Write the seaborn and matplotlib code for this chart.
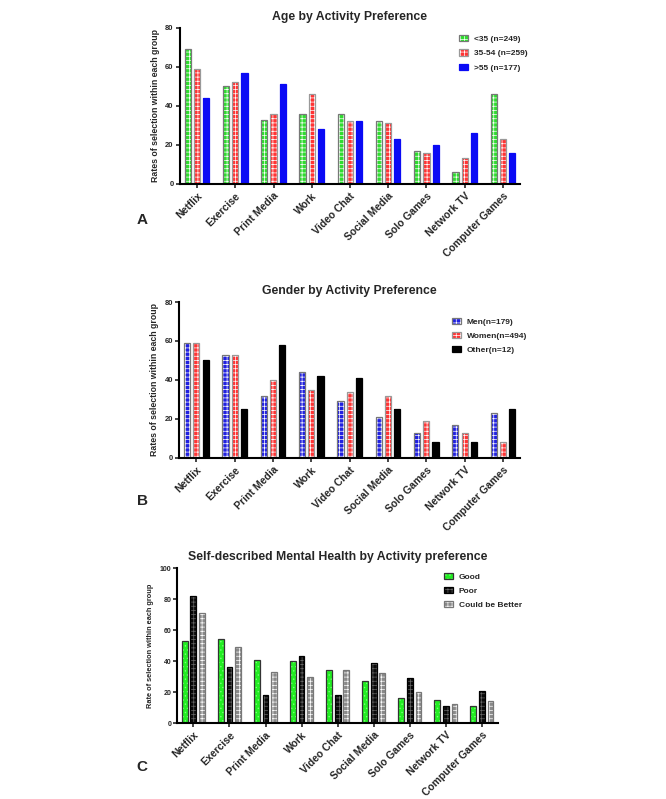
import pandas as pd
import seaborn as sns
import matplotlib.pyplot as plt

# activities (same order in all three panels)
activities = ['Netflix', 'Exercise', 'Print Media', 'Work', 'Video Chat',
              'Social Media', 'Solo Games', 'Network TV', 'Computer Games']

# A - age groups
age_groups = ['<35 (n=249)', '35-54 (n=259)', '>55 (n=177)']
age_under35 = [69, 50, 33, 36, 36, 32, 17, 6, 46]
age_35_54 = [59, 52, 36, 46, 32, 31, 16, 13, 23]
age_over55 = [44, 57, 51, 28, 32, 23, 20, 26, 16]

# B - gender
gender_groups = ['Men(n=179)', 'Women(n=494)', 'Other(n=12)']
gender_men = [59, 53, 32, 44, 29, 21, 13, 17, 23]
gender_women = [59, 53, 40, 35, 34, 32, 19, 13, 8]
gender_other = [50, 25, 58, 42, 41, 25, 8, 8, 25]

# C - self described mental health
health_groups = ['Good', 'Poor', 'Could be Better']
health_good = [53, 54, 41, 40, 34, 27, 16, 15, 11]
health_poor = [82, 36, 18, 43, 18, 39, 29, 11, 21]
health_better = [71, 49, 33, 30, 34, 32, 20, 12, 14]


def long_df(groups, series):
    rows = []
    for g, vals in zip(groups, series):
        for a, v in zip(activities, vals):
            rows.append({'Activity': a, 'Group': g, 'Rate': v})
    return pd.DataFrame(rows)


df_age = long_df(age_groups, [age_under35, age_35_54, age_over55])
df_gender = long_df(gender_groups, [gender_men, gender_women, gender_other])
df_health = long_df(health_groups, [health_good, health_poor, health_better])

sns.set_style('white')
plt.rcParams['font.family'] = ['Liberation Sans', 'DejaVu Sans']
plt.rcParams['hatch.linewidth'] = 0.5

fig = plt.figure(figsize=(6.66, 7.99), dpi=100)


def panel(rect, df, groups, faces, hatches, hatch_cols, outlines, title, ylabel,
          ymax, ystep, letter, letter_xy, leg_anchor, ytick_size=5.5, ylab_size=6.3,
          ytick_pad=1.5):
    ax = fig.add_axes(rect)
    # filled (hatched) bars
    sns.barplot(data=df, x='Activity', y='Rate', hue='Group', order=activities,
                hue_order=groups, palette=faces, width=0.72, gap=0.33,
                errorbar=None, legend=False, ax=ax)
    # outlines drawn on top
    sns.barplot(data=df, x='Activity', y='Rate', hue='Group', order=activities,
                hue_order=groups, palette=outlines, width=0.72, gap=0.33,
                errorbar=None, legend=False, fill=False, linewidth=0.9, ax=ax)
    fills = ax.containers[:3]
    lines = ax.containers[3:6]
    for cont, face, h, hc in zip(fills, faces, hatches, hatch_cols):
        for p in cont.patches:
            p.set_facecolor(face)
            p.set_hatch(h)
            p.set_edgecolor(hc)
            p.set_linewidth(0)

    ax.set_xlim(-0.45, 8.45)
    ax.set_ylim(0, ymax)
    ax.set_yticks(range(0, ymax + 1, ystep))
    ax.set_xlabel('')
    ax.set_ylabel(ylabel, fontsize=ylab_size, fontweight='bold', labelpad=4)
    ax.set_title(title, fontsize=8.8, fontweight='bold', pad=6)
    ax.set_xticks(range(len(activities)))
    ax.set_xticklabels(activities, rotation=45, ha='right', rotation_mode='anchor',
                       fontsize=7.5, fontweight='bold')
    for lab in ax.get_yticklabels():
        lab.set_fontweight('bold')
    ax.tick_params(axis='y', labelsize=ytick_size, length=3, width=1.2, direction='out',
                   left=True, pad=ytick_pad)
    ax.tick_params(axis='x', length=3, width=1.2, direction='out', bottom=True, pad=2)
    sns.despine(ax=ax)
    for s in ['left', 'bottom']:
        ax.spines[s].set_linewidth(1.5)
        ax.spines[s].set_color('black')

    handles = [(f.patches[0], l.patches[0]) for f, l in zip(fills, lines)]
    ax.legend(handles, groups, loc='upper left', bbox_to_anchor=leg_anchor,
              frameon=False, prop={'size': 6, 'weight': 'bold'},
              handlelength=1.1, handleheight=0.75,
              labelspacing=0.75, handletextpad=0.7, borderaxespad=0)
    fig.text(letter_xy[0], letter_xy[1], letter, fontsize=11, fontweight='bold',
             ha='left', va='center')
    return ax


panel([0.270, 0.770, 0.511, 0.195], df_age, age_groups,
      faces=['#2fdc2f', '#ff3434', '#0a0af5'],
      hatches=['++++', '++++', None],
      hatch_cols=['white', 'white', '#0a0af5'],
      outlines=['#777777', '#999999', '#0a0af5'],
      title='Age by Activity Preference',
      ylabel='Rates of selection within each group',
      ymax=80, ystep=20, letter='A', letter_xy=(0.205, 0.725),
      leg_anchor=(0.81, 0.975))

panel([0.269, 0.427, 0.512, 0.195], df_gender, gender_groups,
      faces=['#2020e0', '#ff3434', '#000000'],
      hatches=['++++', '++++', None],
      hatch_cols=['white', 'white', '#000000'],
      outlines=['#777777', '#999999', '#000000'],
      title='Gender by Activity Preference',
      ylabel='Rates of selection within each group',
      ymax=80, ystep=20, letter='B', letter_xy=(0.205, 0.373),
      leg_anchor=(0.79, 0.92))

panel([0.266, 0.095, 0.482, 0.194], df_health, health_groups,
      faces=['#22ee22', '#0a0a0a', '#8a8a8a'],
      hatches=['....', '++++', '++++'],
      hatch_cols=['#77ff77', '#666666', 'white'],
      outlines=['#333333', '#000000', '#777777'],
      title='Self-described Mental Health by Activity preference',
      ylabel='Rate of selection within each group',
      ymax=100, ystep=20, letter='C', letter_xy=(0.205, 0.040),
      leg_anchor=(0.82, 0.99), ytick_size=5, ylab_size=5.3, ytick_pad=1)

fig.savefig('out.png', dpi=100)
